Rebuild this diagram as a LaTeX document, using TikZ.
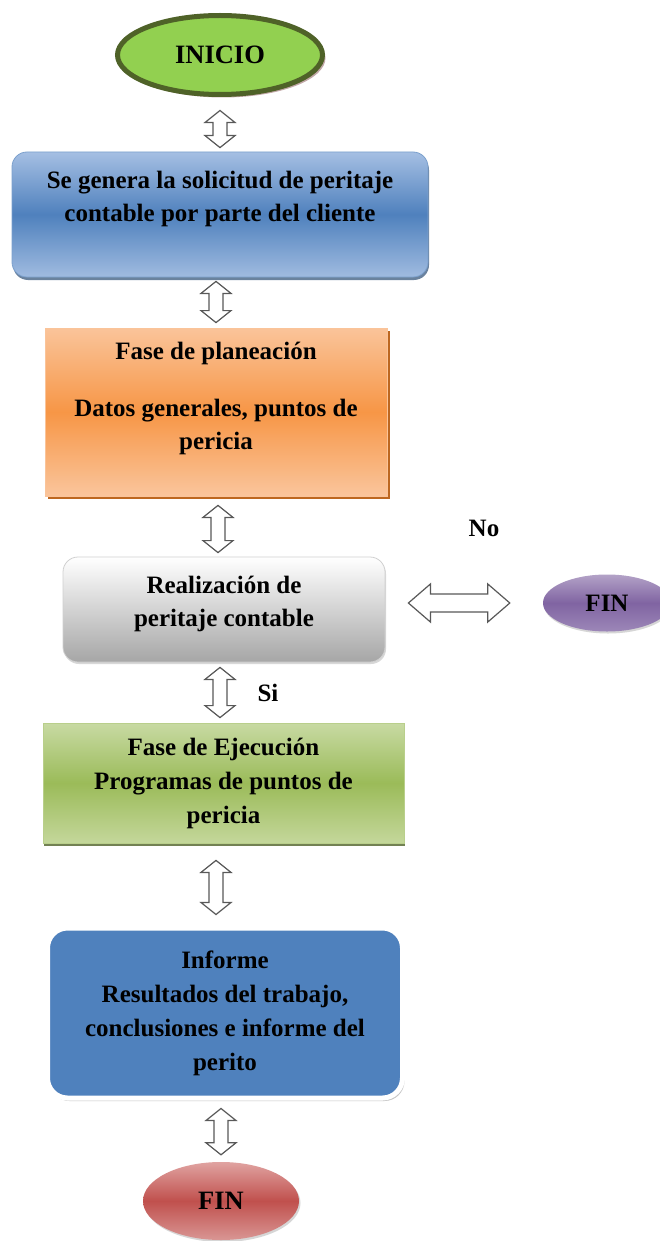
\documentclass[tikz,border=0pt]{standalone}
\usepackage{fontspec}
\setmainfont{Liberation Serif}
\usetikzlibrary{calc,shadows,shapes.geometric}
\definecolor{inigreen}{HTML}{92D050}
\definecolor{iniborder}{HTML}{4F6228}
\definecolor{inishadow}{HTML}{9A6E6E}
\definecolor{bluemid}{HTML}{4F81BD}
\definecolor{bluetop}{HTML}{A5BFE3}
\definecolor{bluebot}{HTML}{A0BBE0}
\definecolor{blueline}{HTML}{7BA0CD}
\definecolor{blueshadow}{HTML}{2C4D75}
\definecolor{orangemid}{HTML}{F79646}
\definecolor{orangetop}{HTML}{FAC49A}
\definecolor{orangebot}{HTML}{FAC59C}
\definecolor{orangeshadow}{HTML}{B65708}
\definecolor{graybot}{HTML}{A6A6A6}
\definecolor{grayline}{HTML}{D0D0D0}
\definecolor{greenmid}{HTML}{9BBB59}
\definecolor{greentop}{HTML}{C8DAA3}
\definecolor{greenbot}{HTML}{C4D79B}
\definecolor{purplemid}{HTML}{8064A2}
\definecolor{purpletop}{HTML}{B3A2C7}
\definecolor{purplebot}{HTML}{9C87B8}
\definecolor{redmid}{HTML}{C0504D}
\definecolor{redtop}{HTML}{E0A3A1}
\definecolor{redbot}{HTML}{D99694}
\definecolor{arrowgray}{HTML}{595959}
\tikzset{
  txt/.style={font=\fontsize{25}{33}\selectfont\bfseries, align=center, text=black, inner sep=0pt},
  bigtxt/.style={font=\fontsize{26.5}{30}\selectfont\bfseries, text=black},
  blk/.style={draw=arrowgray, fill=white, line width=1.2pt, line join=miter},
  boxbase/.style={rectangle, inner sep=0pt, line width=0.8pt},
}
\newcommand\blkarrow[5]{%
  \coordinate (ba) at #1;
  \coordinate (bb) at #2;
  \coordinate (bh) at ($(ba)!#3!(bb)$);
  \coordinate (bk) at ($(bb)!#3!(ba)$);
  \draw[blk] (ba) -- ($(bh)!#4!90:(bb)$) -- ($(bh)!#5!90:(bb)$)
    -- ($(bk)!#5!90:(bb)$) -- ($(bk)!#4!90:(bb)$) -- (bb)
    -- ($(bk)!#4!-90:(bb)$) -- ($(bk)!#5!-90:(bb)$)
    -- ($(bh)!#5!-90:(bb)$) -- ($(bh)!#4!-90:(bb)$) -- cycle;
}
\begin{document}
\begin{tikzpicture}[x=1pt,y=-1pt]
\useasboundingbox (0,0) rectangle (660,1241);
\fill[white] (0,0) rectangle (660,1241);

% INICIO
\node[ellipse, minimum width=205pt, minimum height=79pt, fill=inigreen, draw=iniborder,
  line width=5pt, bigtxt,
  drop shadow={shadow xshift=3pt, shadow yshift=-3pt, fill=inishadow, opacity=.6}]
  (inicio) at (220,55) {INICIO};

% Box 1
\node[boxbase, rounded corners=15pt, minimum width=416pt, minimum height=125pt,
  draw=blueline, top color=bluetop, bottom color=bluebot, middle color=bluemid,
  drop shadow={shadow xshift=1pt, shadow yshift=-3pt, fill=blueshadow, opacity=.7}]
  (b1) at (220,214.5) {};
\node[txt] (b1t) at (220,199) {Se genera la solicitud de peritaje\\contable por parte del cliente};

% Box 2
\node[boxbase, minimum width=342pt, minimum height=168pt,
  draw=orangetop, top color=orangetop, bottom color=orangebot, middle color=orangemid,
  drop shadow={shadow xshift=2.5pt, shadow yshift=-3pt, fill=orangeshadow, opacity=.9}]
  (b2) at (216,412) {};
\node[txt] (b2t) at (216,398) {Fase de planeación\\[24pt]Datos generales, puntos de\\pericia};

% Box 3
\node[boxbase, rounded corners=15pt, minimum width=322pt, minimum height=105pt,
  draw=grayline, top color=white, bottom color=graybot,
  drop shadow={shadow xshift=1pt, shadow yshift=-2pt, fill=black!30, opacity=.5}]
  (b3) at (224,609.5) {};
\node[txt] (b3t) at (224,604) {Realización de\\peritaje contable};

% FIN (purple)
\node[ellipse, minimum width=128pt, minimum height=57pt, inner sep=0pt,
  top color=purpletop, bottom color=purplebot, middle color=purplemid, bigtxt,
  font=\fontsize{25}{30}\selectfont\bfseries,
  drop shadow={shadow xshift=1pt, shadow yshift=-2pt, fill=black!40, opacity=.4}]
  (fin1) at (607,603) {FIN};
\node[txt] (no) at (484,528) {No};

% Box 4
\node[boxbase, minimum width=361pt, minimum height=120pt,
  draw=greenmid!70, top color=greentop, bottom color=greenbot, middle color=greenmid,
  drop shadow={shadow xshift=1pt, shadow yshift=-3pt, fill=iniborder, opacity=.8}]
  (b4) at (223.5,783) {};
\node[txt, font=\fontsize{25}{34}\selectfont\bfseries] (b4t) at (223.5,783)
  {Fase de Ejecución\\Programas de puntos de\\pericia};
\node[txt] (si) at (268,693) {Si};

% Box 5
\node[boxbase, rounded corners=20pt, minimum width=355pt, minimum height=170pt,
  draw=white, line width=5pt, fill=bluemid,
  drop shadow={shadow xshift=2pt, shadow yshift=-3pt, fill=black!45, opacity=.5}]
  (b5) at (225,1013) {};
\node[txt, font=\fontsize{25}{34}\selectfont\bfseries] (b5t) at (225,1013)
  {Informe\\Resultados del trabajo,\\conclusiones e informe del\\perito};

% FIN (red)
\node[ellipse, minimum width=156pt, minimum height=78pt, inner sep=0pt,
  top color=redtop, bottom color=redbot, middle color=redmid, bigtxt,
  drop shadow={shadow xshift=1.5pt, shadow yshift=-2pt, fill=black!40, opacity=.4}]
  (fin2) at (221,1201) {FIN};

% Double block arrows
\blkarrow{($(b1.north |- inicio.south)+(0,13.5)$)}{($(b1.north)+(0,-4)$)}{12pt}{15pt}{7pt}
\blkarrow{($(b2.north |- b1.south)+(0,4)$)}{($(b2.north)+(0,-5)$)}{12pt}{15pt}{7pt}
\blkarrow{($(b2.south)+(2,9)$)}{($(b3.north -| b2.south)+(2,-4)$)}{12pt}{15pt}{7pt}
\blkarrow{($(b3.south -| b1.south)+(0,5)$)}{($(b4.north -| b1.south)+(0,-5)$)}{12pt}{15pt}{7pt}
\blkarrow{($(b4.south -| b2.south)+(0,17)$)}{($(b5.north -| b2.south)+(0,-11)$)}{12pt}{15pt}{7pt}
\blkarrow{($(b5.south -| fin2.north)+(0,8)$)}{($(fin2.north)+(0,-7)$)}{12pt}{15pt}{7pt}
\blkarrow{($(b3.east |- fin1.west)+(23,0)$)}{($(fin1.west)+(-33,0)$)}{22pt}{19pt}{9pt}
\end{tikzpicture}
\end{document}
